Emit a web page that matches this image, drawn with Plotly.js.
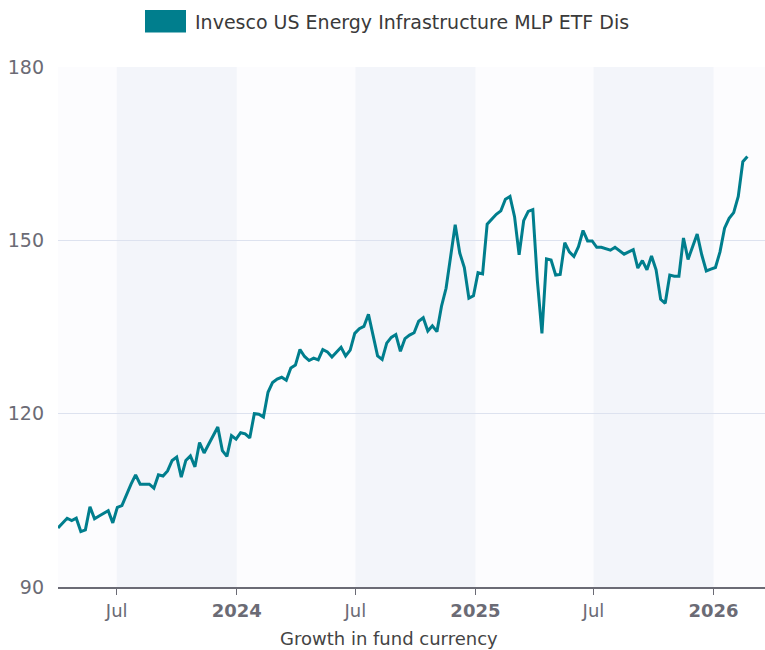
<!DOCTYPE html>
<html>
<head>
<meta charset="utf-8">
<script src="https://cdn.plot.ly/plotly-3.0.1.min.js"></script>
<style>
  html, body { margin: 0; padding: 0; background: #ffffff; overflow: hidden; }
  #chart { width: 765px; height: 650px; }
</style>
</head>
<body>
<div id="chart"></div>
<script>
// ---- data (weekly growth of 100) ----
const seriesName = 'Invesco US Energy Infrastructure MLP ETF Dis';
const startDate = '2023-04-02';
const growth = [
  100.2, 101.0, 101.9, 101.5, 101.9, 99.6, 99.9, 103.9, 101.8, 102.3,
  102.8, 103.2, 101.1, 103.8, 104.1, 106.0, 107.8, 109.4, 107.8, 107.8,
  107.8, 107.1, 109.4, 109.2, 110.1, 111.9, 112.5, 109.0, 111.9, 112.7,
  110.8, 115.0, 113.2, 114.7, 116.2, 117.7, 113.6, 112.6, 116.2, 115.6,
  116.7, 116.5, 115.8, 120.0, 119.9, 119.4, 123.7, 125.4, 126.0, 126.3,
  125.8, 127.9, 128.4, 131.1, 129.9, 129.2, 129.6, 129.3, 131.1, 130.7,
  129.8, 130.6, 131.5, 130.0, 131.0, 133.9, 134.7, 135.1, 137.2, 133.6,
  130.0, 129.4, 132.2, 133.2, 133.7, 130.8, 133.0, 133.6, 134.0, 136.0,
  136.6, 134.3, 135.2, 134.2, 138.6, 141.7, 147.3, 152.7, 147.8, 145.3,
  140.0, 140.4, 144.4, 144.2, 152.8, 153.6, 154.5, 155.1, 157.1, 157.6,
  154.1, 147.5, 153.4, 155.0, 155.3, 143.0, 133.9, 146.8, 146.6, 144.0,
  144.1, 149.6, 148.0, 147.2, 148.9, 151.7, 149.9, 149.9, 148.8, 148.8,
  148.6, 148.3, 148.8, 148.2, 147.6, 148.0, 148.4, 145.2, 146.5, 144.9,
  147.3, 144.9, 139.8, 139.1, 144.0, 143.8, 143.8, 150.4, 146.7, 148.9,
  151.1, 147.5, 144.7, 145.0, 145.3, 148.0, 152.1, 153.8, 154.8, 157.6,
  163.6, 164.5
];
const tickDates = ['2023-07-01', '2024-01-01', '2024-07-01', '2025-01-01', '2025-07-01', '2026-01-01'];
const tickLabels = ['Jul', '<b>2024</b>', 'Jul', '<b>2025</b>', 'Jul', '<b>2026</b>'];
const yTicks = [90, 120, 150, 180];
const bandStarts = ['2023-07-01', '2024-07-01', '2025-07-01'];
const bandEnds = ['2024-01-01', '2025-01-01', '2026-01-01'];
const xAxisTitle = 'Growth in fund currency';

// weekly dates for the series
const dates = growth.map((_, i) => {
  const d = new Date(startDate + 'T00:00:00Z');
  d.setUTCDate(d.getUTCDate() + 7 * i);
  return d.toISOString().slice(0, 10);
});

// ---- layout helpers (pixel -> paper) ----
const W = 765, H = 650;
const M = { l: 58, r: 0, t: 67, b: 63 };
const plotW = W - M.l - M.r, plotH = H - M.t - M.b;
const px = x => (x - M.l) / plotW;
const py = y => (H - M.b - y) / plotH;

const teal = '#007e8d';
const FONT = 'DejaVu Sans, sans-serif';

const shapes = bandStarts.map((s, i) => ({
  type: 'rect', xref: 'x', yref: 'paper', x0: s, x1: bandEnds[i], y0: 0, y1: 1,
  fillcolor: '#f3f5fa', line: { width: 0 }, layer: 'below'
}));
// legend swatch
shapes.push({
  type: 'rect', xref: 'paper', yref: 'paper',
  x0: px(145), x1: px(186), y0: py(32.5), y1: py(10),
  fillcolor: teal, line: { width: 0 }
});

const trace = {
  x: dates, y: growth, type: 'scatter', mode: 'lines', name: seriesName,
  line: { color: teal, width: 3 }, hoverinfo: 'x+y', showlegend: false
};

const layout = {
  width: W, height: H,
  margin: M,
  paper_bgcolor: '#ffffff',
  plot_bgcolor: '#fcfcfe',
  showlegend: false,
  font: { family: FONT, size: 18, color: '#6b6b75' },
  xaxis: {
    type: 'date',
    range: ['2023-04-02', '2026-03-21'],
    tickvals: tickDates, ticktext: tickLabels,
    ticks: 'outside', ticklen: 6, tickwidth: 1.5, tickcolor: '#6b6b75',
    showline: true, linecolor: '#6b6b75', linewidth: 2,
    showgrid: false, zeroline: false,
    tickfont: { family: FONT, size: 18, color: '#6b6b75' },
    fixedrange: true
  },
  yaxis: {
    range: [90, 180],
    tickvals: yTicks,
    showgrid: true, gridcolor: '#dde2ef', gridwidth: 1.5,
    zeroline: false, showline: false, ticks: '',
    ticklabelstandoff: 13,
    tickfont: { family: FONT, size: 19, color: '#6b6b75' },
    fixedrange: true
  },
  shapes: shapes,
  annotations: [
    {
      xref: 'paper', yref: 'paper', x: px(193), y: py(21.5),
      xanchor: 'left', yanchor: 'middle', showarrow: false,
      text: seriesName, font: { family: FONT, size: 19, color: '#3a3a3a' }
    },
    {
      xref: 'paper', yref: 'paper', x: px(389), y: py(638),
      xanchor: 'center', yanchor: 'middle', showarrow: false,
      text: xAxisTitle, font: { family: FONT, size: 18, color: '#444444' }
    }
  ]
};

Plotly.newPlot('chart', [trace], layout, { displayModeBar: false, staticPlot: true });
</script>
</body>
</html>
